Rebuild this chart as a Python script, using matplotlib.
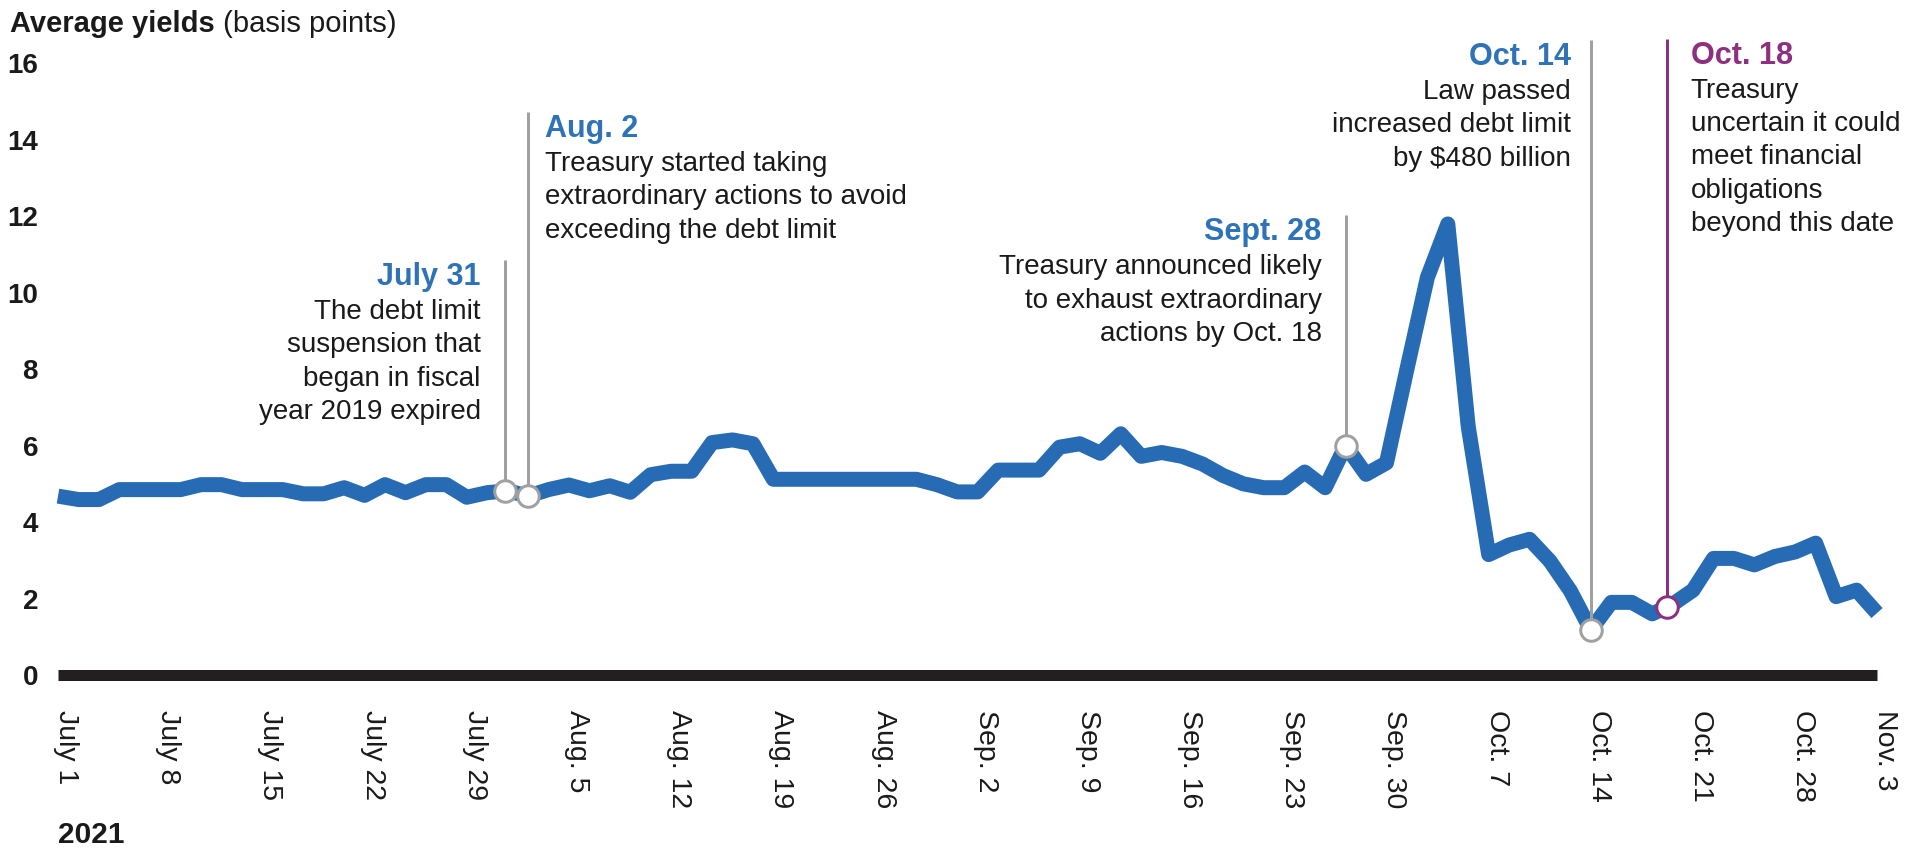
import matplotlib
matplotlib.use("Agg")
import matplotlib.pyplot as plt
from matplotlib.transforms import ScaledTranslation
import numpy as np

# ---------------- data ----------------
# average yields (basis points), one value per business day, July 1 - Nov 3, 2021
yields = [
    4.68, 4.59, 4.59, 4.85, 4.85, 4.85, 4.85, 4.98, 4.98, 4.85,
    4.85, 4.85, 4.74, 4.74, 4.90, 4.70, 4.98, 4.77, 4.98, 4.98,
    4.65, 4.77, 4.82, 4.68, 4.85, 4.97, 4.82, 4.95, 4.78, 5.24,
    5.33, 5.33, 6.08, 6.15, 6.05, 5.12, 5.12, 5.12, 5.12, 5.12,
    5.12, 5.12, 5.12, 4.98, 4.79, 4.79, 5.36, 5.36, 5.36, 5.96,
    6.05, 5.80, 6.31, 5.72, 5.82, 5.72, 5.52, 5.22, 5.00, 4.90,
    4.90, 5.31, 4.90, 6.00, 5.25, 5.55, 8.00, 10.40, 11.80, 6.50,
    3.15, 3.40, 3.55, 2.98, 2.20, 1.18, 1.90, 1.90, 1.60, 1.85,
    2.22, 3.05, 3.05, 2.88, 3.10, 3.22, 3.45, 2.05, 2.22, 1.62,
]
tick_positions = [0, 5, 10, 15, 20, 25, 30, 35, 40, 45, 50, 55, 60, 65, 70, 75, 80, 85, 89]
tick_labels = ["July 1", "July 8", "July 15", "July 22", "July 29", "Aug. 5", "Aug. 12",
               "Aug. 19", "Aug. 26", "Sep. 2", "Sep. 9", "Sep. 16", "Sep. 23", "Sep. 30",
               "Oct. 7", "Oct. 14", "Oct. 21", "Oct. 28", "Nov. 3"]
y_ticks = [0, 2, 4, 6, 8, 10, 12, 14, 16]
year_label = "2021"

event_dates = ["July 31", "Aug. 2", "Sept. 28", "Oct. 14", "Oct. 18"]
event_pos = [21.85, 23.0, 63.0, 75.0, 78.74]   # business-day index
event_notes = [
    ["The debt limit", "suspension that", "began in fiscal", "year 2019 expired"],
    ["Treasury started taking", "extraordinary actions to avoid", "exceeding the debt limit"],
    ["Treasury announced likely", "to exhaust extraordinary", "actions by Oct. 18"],
    ["Law passed", "increased debt limit", "by $480 billion"],
    ["Treasury", "uncertain it could", "meet financial", "obligations", "beyond this date"],
]

# ---------------- layout / style ----------------
W, H = 1913, 848
DPI = 100
plt.rcParams["font.family"] = ["Liberation Sans", "DejaVu Sans"]

BLUE_LINE = "#276BB5"
BLUE_TXT = "#2E73B8"
PURPLE = "#8E2F80"
GRAY = "#A0A0A0"
TXT = "#1A1A1A"

# per-event layout: line top (value units), text side, x offset (px)
ev_top = [10.86, 14.73, 12.03, 16.61, 16.65]
ev_side = ["right", "left", "right", "right", "left"]
ev_dx = [-23.7, 16.6, -24.0, -20.0, 23.5]
ev_color = [GRAY, GRAY, GRAY, GRAY, PURPLE]
ev_head_color = [BLUE_TXT, BLUE_TXT, BLUE_TXT, BLUE_TXT, PURPLE]

fig = plt.figure(figsize=(W / DPI, H / DPI), dpi=DPI)
x0_px, x1_px = 58, 1877
y0_px, y16_px = 675, 63.4
ax = fig.add_axes([x0_px / W, (H - y0_px) / H, (x1_px - x0_px) / W, (y0_px - y16_px) / H])

x = np.arange(len(yields))
ax.set_xlim(0, len(yields) - 1)
ax.set_ylim(0, 16)

pt = 72.0 / DPI  # points per pixel

# baseline
ax.axhline(0, color="#231F20", lw=11 * pt, solid_capstyle="butt", clip_on=False, zorder=2)

# series
ax.plot(x, yields, color=BLUE_LINE, lw=15 * pt, solid_joinstyle="round",
        solid_capstyle="butt", clip_on=False, zorder=3)

# events
for i, (d, xp) in enumerate(zip(event_dates, event_pos)):
    yv = float(np.interp(xp, x, yields))
    top = ev_top[i]
    ax.plot([xp, xp], [yv, top], color=ev_color[i], lw=3 * pt, solid_capstyle="butt",
            clip_on=False, zorder=4)
    ax.plot([xp], [yv], marker="o", ms=15.5, mfc="white", mec=ev_color[i], mew=3 * pt,
            clip_on=False, zorder=5)
    ha = ev_side[i]
    ax.annotate(d, xy=(xp, top), xytext=(ev_dx[i] * pt, -25 * pt), textcoords="offset points",
                ha=ha, va="baseline", fontsize=22, fontweight="bold", color=ev_head_color[i],
                annotation_clip=False)
    for j, line in enumerate(event_notes[i]):
        ax.annotate(line, xy=(xp, top), xytext=(ev_dx[i] * pt, -(59 + 33.4 * j) * pt),
                    textcoords="offset points", ha=ha, va="baseline", fontsize=20,
                    color=TXT, annotation_clip=False)

# axes styling
for s in ax.spines.values():
    s.set_visible(False)
ax.set_yticks(y_ticks)
ax.set_yticklabels([str(v) for v in y_ticks], fontweight="bold", fontsize=20, color=TXT)
ax.tick_params(axis="y", length=0, pad=14.4)
ax.set_xticks(tick_positions)
ax.set_xticklabels(tick_labels, rotation=270, ha="center", va="top", fontsize=20.5, color=TXT)
ax.tick_params(axis="x", length=0, pad=25)
off = ScaledTranslation(8 / DPI, 0, fig.dpi_scale_trans)
for lab in ax.get_xticklabels():
    lab.set_transform(lab.get_transform() + off)

# title
t1 = fig.text(10 / W, 1 - 32 / H, "Average yields", fontsize=21, fontweight="bold",
              color=TXT, va="baseline", ha="left")
fig.canvas.draw()
fig.text(0, 0, " (basis points)", fontsize=21, color=TXT, va="baseline", ha="left",
         transform=fig.transFigure)
bb = t1.get_window_extent()
fig.texts[-1].set_position((bb.x1 / W, 1 - 32 / H))

fig.text(58 / W, 1 - 843 / H, year_label, fontsize=21.5, fontweight="bold", color=TXT,
         va="baseline", ha="left")

fig.savefig("out.png", dpi=DPI)
